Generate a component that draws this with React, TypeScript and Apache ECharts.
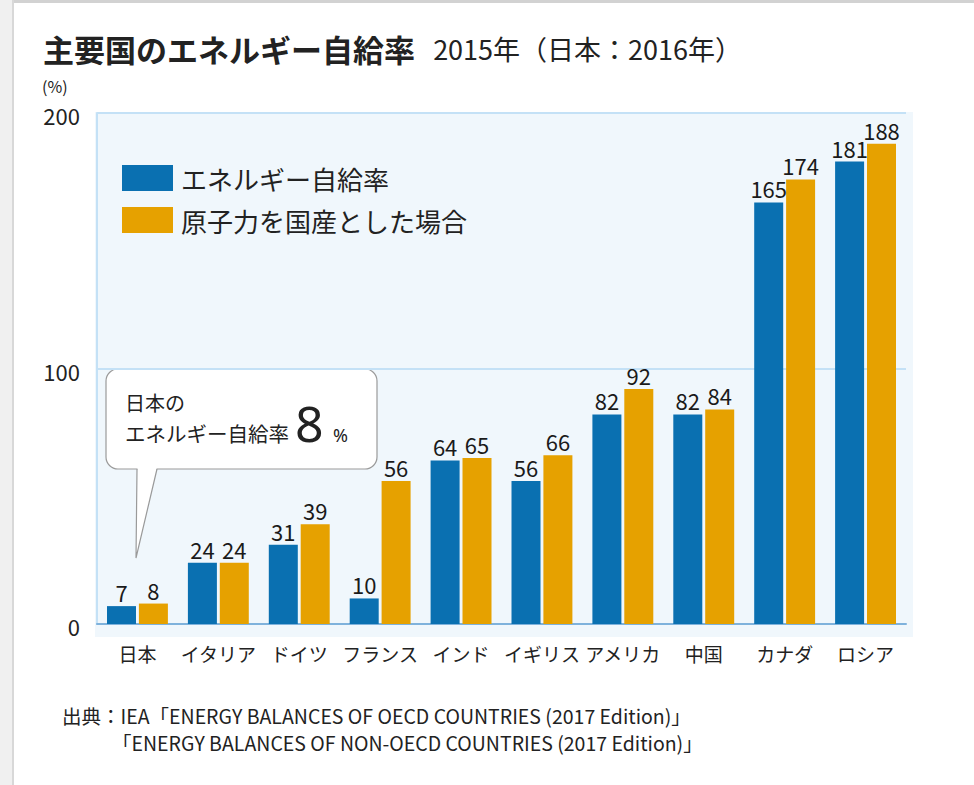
import React, { useEffect, useRef } from "react";
import * as echarts from "echarts";

const categories = ["日本", "イタリア", "ドイツ", "フランス", "インド", "イギリス", "アメリカ", "中国", "カナダ", "ロシア"];
const selfSufficiency = [7, 24, 31, 10, 64, 56, 82, 82, 165, 181];
const nuclearDomestic = [8, 24, 39, 56, 65, 66, 92, 84, 174, 188];
const seriesNames = ["エネルギー自給率", "原子力を国産とした場合"];
const yTicks = { min: 0, max: 200, interval: 100 };

const BLUE = "#0a70b1";
const ORANGE = "#e6a100";
const JP = '"Noto Sans CJK JP", "Noto Sans", sans-serif';

export default function App() {
  const ref = useRef<HTMLDivElement>(null);
  useEffect(() => {
    if (!ref.current) return;
    const chart = echarts.init(ref.current, null, { renderer: "svg" });
    const labelStyle = {
      show: true,
      position: "top" as const,
      distance: 3,
      fontSize: 22,
      fontFamily: JP,
      color: "#1a1a1a",
    };
    chart.setOption({
      animation: false,
      backgroundColor: "#ffffff",
      title: {
        left: 38,
        top: 28,
        text: "{a|主要国のエネルギー自給率}{b|   2015年（日本：2016年）}",
        textStyle: {
          rich: {
            a: { fontFamily: JP, fontSize: 31, fontWeight: "bold", color: "#222" },
            b: { fontFamily: JP, fontSize: 27, fontWeight: "normal", color: "#222" },
          },
        },
      },
      legend: {
        orient: "vertical",
        left: 122,
        top: 165,
        padding: 0,
        itemWidth: 51,
        itemHeight: 26,
        itemGap: 16,
        icon: "rect",
        textStyle: { fontFamily: JP, fontSize: 26, color: "#222", padding: [0, 0, 0, 3] },
        data: seriesNames,
      },
      grid: { left: 97, right: 68, top: 113, bottom: 161, containLabel: false },
      xAxis: {
        type: "category",
        data: categories,
        axisLine: { show: true, lineStyle: { color: "#7fb2dc", width: 2 } },
        axisTick: { show: false },
        axisLabel: { interval: 0, margin: 20, fontFamily: JP, fontSize: 19, color: "#222" },
      },
      yAxis: {
        type: "value",
        min: yTicks.min,
        max: yTicks.max,
        interval: yTicks.interval,
        axisLine: { show: true, lineStyle: { color: "#c4e1f6", width: 2 } },
        axisTick: { show: false },
        splitLine: { show: true, lineStyle: { color: "#c4e1f6", width: 2 } },
        axisLabel: { margin: 17, fontFamily: JP, fontSize: 22, color: "#222", verticalAlign: "top", padding: [-9, 0, 0, 0] },
      },
      series: [
        {
          name: seriesNames[0],
          type: "bar",
          data: selfSufficiency,
          barWidth: 29,
          barGap: "10%",
          itemStyle: { color: BLUE },
          label: labelStyle,
        },
        {
          name: seriesNames[1],
          type: "bar",
          data: nuclearDomestic,
          barWidth: 29,
          itemStyle: { color: ORANGE },
          label: labelStyle,
        },
      ],
      graphic: [
        { type: "rect", z: -10, shape: { x: 0, y: 0, width: 974, height: 3 }, style: { fill: "#d2d2d2" } },
        { type: "rect", z: -10, shape: { x: 0, y: 0, width: 12, height: 785 }, style: { fill: "#f0f0f0" } },
        { type: "rect", z: -10, shape: { x: 12, y: 0, width: 2, height: 785 }, style: { fill: "#d8d8d8" } },
        { type: "rect", z: -10, shape: { x: 95, y: 112, width: 818, height: 525 }, style: { fill: "#f0f7fc" } },
        { type: "text", left: 42, top: 78, style: { text: "(%)", fontFamily: JP, fontSize: 16, fill: "#222" } },
        {
          type: "group",
          z: 50,
          children: [
            {
              type: "rect",
              shape: { x: 106, y: 369, width: 271, height: 100, r: 12 },
              style: { fill: "#ffffff", stroke: "#9a9a9a", lineWidth: 1.2 },
            },
            {
              type: "polygon",
              shape: { points: [[137.5, 467], [157, 467], [136, 558]] },
              style: { fill: "#ffffff" },
            },
            {
              type: "polyline",
              shape: { points: [[137, 469], [136, 558], [157, 469]] },
              style: { fill: "none", stroke: "#9a9a9a", lineWidth: 1.2 },
            },
            { type: "text", x: 125, y: 392, style: { text: "日本の", fontFamily: JP, fontSize: 20, fill: "#222" } },
            { type: "text", x: 125, y: 423, style: { text: "エネルギー自給率", fontFamily: JP, fontSize: 20.5, fill: "#222" } },
            { type: "text", x: 295, y: 398, style: { text: "8", fontFamily: '"Noto Sans", sans-serif', fontSize: 50, fill: "#222" } },
            { type: "text", x: 333, y: 426, style: { text: "%", fontFamily: '"Noto Sans", sans-serif', fontSize: 18, fill: "#222" } },
          ],
        },
        {
          type: "text",
          left: 62,
          top: 706,
          style: { text: "出典：IEA「ENERGY BALANCES OF OECD COUNTRIES (2017 Edition)」", fontFamily: JP, fontSize: 19.5, fill: "#222" },
        },
        {
          type: "text",
          left: 112,
          top: 733,
          style: { text: "「ENERGY BALANCES OF NON-OECD COUNTRIES (2017 Edition)」", fontFamily: JP, fontSize: 19.5, fill: "#222" },
        },
      ],
    });
    return () => chart.dispose();
  }, []);
  return <div ref={ref} style={{ position: "fixed", left: 0, top: 0, width: 974, height: 785 }} />;
}
